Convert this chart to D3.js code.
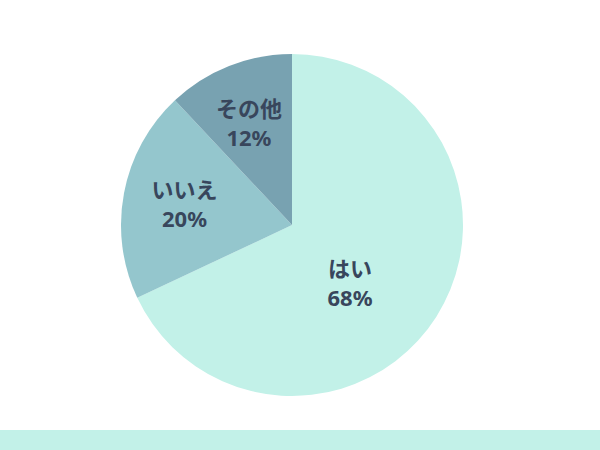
<!DOCTYPE html>
<html>
<head>
<meta charset="utf-8">
<script src="https://cdn.jsdelivr.net/npm/d3@7"></script>
<style>
  html, body { margin: 0; padding: 0; background: #ffffff; }
  svg { display: block; }
</style>
</head>
<body>
<svg id="chart" width="600" height="450"></svg>
<script>
const categories = ["はい", "いいえ", "その他"];
const values = [68, 20, 12];
const labels = ["68%", "20%", "12%"];
const colors = ["#c2f1e8", "#94c6cd", "#78a2b1"];
// label placement: angle (deg, clockwise from top) and radius fraction
const labelAngles = [135, 280.8, 337];
const labelRadii = [0.48, 0.64, 0.645];

const W = 600, H = 450;
const cx = 292, cy = 225, R = 171;

const svg = d3.select("#chart");

// bottom band
svg.append("rect")
  .attr("x", 0).attr("y", 430)
  .attr("width", W).attr("height", H - 430)
  .attr("fill", "#c2f1e8");

const g = svg.append("g").attr("transform", `translate(${cx},${cy})`);

const pie = d3.pie().value(d => d).sort(null);
const arcs = pie(values);
const arc = d3.arc().innerRadius(0).outerRadius(R);

g.selectAll("path")
  .data(arcs)
  .join("path")
  .attr("d", arc)
  .attr("fill", (d, i) => colors[i]);

const txt = g.selectAll("text.lbl")
  .data(arcs)
  .join("text")
  .attr("class", "lbl")
  .attr("text-anchor", "middle")
  .attr("font-family", "'Noto Sans CJK JP', 'Noto Sans', sans-serif")
  .attr("font-weight", "bold")
  .attr("font-size", 22)
  .attr("fill", "#38465c")
  .attr("transform", (d, i) => {
    const a = labelAngles[i] * Math.PI / 180;
    const r = labelRadii[i] * R;
    return `translate(${r * Math.sin(a)},${-r * Math.cos(a)})`;
  });

txt.append("tspan")
  .attr("x", 0)
  .attr("y", -14)
  .attr("dy", "0.36em")
  .text((d, i) => categories[i]);

txt.append("tspan")
  .attr("x", 0)
  .attr("y", 15)
  .attr("dy", "0.36em")
  .attr("font-family", "'Noto Sans', 'Noto Sans CJK JP', sans-serif")
  .text((d, i) => labels[i]);
</script>
</body>
</html>
